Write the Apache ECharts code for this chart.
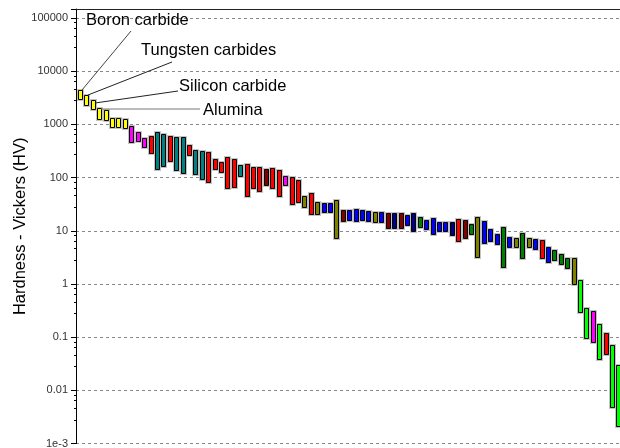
<!DOCTYPE html>
<html>
<head>
<meta charset="utf-8">
<script src="https://cdn.jsdelivr.net/npm/echarts@6/dist/echarts.min.js"></script>
<style>
  html, body { margin: 0; padding: 0; background: #fff; }
  #main { width: 620px; height: 448px; }
</style>
</head>
<body>
<div id="main"></div>
<script>
// hardness ranges (HV), one bar per material, left to right
var hvHigh = [4430, 3570, 2875, 2033, 1866, 1319, 1300, 1264,
  933, 720, 555, 605, 720, 660, 605, 580, 580, 410, 330, 316, 303,
  224, 196, 244, 224, 173, 180, 158, 158, 145, 152, 139, 107,
  103, 90, 45, 51, 35, 33, 33, 38, 24.6, 24.6, 25.7, 24.6,
  23.6, 22.6, 22.6, 21.6, 21.6, 21.6, 19.8, 21.6, 18.2, 16, 17.4, 14.6,
  14.6, 14.6, 16.7, 16, 13.4, 18.2, 15.3, 10.8, 8.7, 11.8, 7.6, 7.3,
  9.1, 7.3, 7.0, 6.7, 5.0, 4.4, 3.7, 3.1, 3.1, 1.19, 0.354, 0.31,
  0.177, 0.12, 0.071, 0.030];
var hvLow = [3000, 2315, 1947, 1264, 1210, 893, 880, 856,
  467, 488, 376, 290, 145, 165, 205, 139, 122, 266, 117, 94, 83,
  145, 127, 64, 67, 107, 45, 64, 56, 73, 64, 45, 73,
  32, 35, 28, 20.7, 20.7, 22.6, 22.6, 7.3, 15.3, 16, 15.3, 16,
  15.3, 14.6, 14.6, 11.3, 11.3, 11.3, 12.9, 9.9, 11.8, 10.8, 8.7, 9.9,
  9.9, 8.3, 6.4, 7.3, 8.7, 3.2, 5.9, 6.4, 5.6, 2.1, 5.0, 5.0,
  3.1, 5.0, 4.5, 3.1, 2.6, 2.8, 2.4, 2.0, 1.0, 0.30, 0.097, 0.081,
  0.039, 0.048, 0.0049, 0.0021];
// material family of each bar (sets its colour)
var family = ['Y','Y','Y','Y','Y','Y','Y','Y',
  'M','M','M','R','T','T','R','T','T','R','T','T','R',
  'R','R','R','R','T','R','R','R','D','R','R','M',
  'R','R','O','R','O','B','B','O','D','B','B','B',
  'B','O','B','D','N','D','B','N','G','B','B','B',
  'B','N','R','D','G','O','B','B','B','G','B','O',
  'G','O','B','R','B','G','G','G','O','L','L','M',
  'L','R','L','L'];
var familyColor = {Y: '#ffff00', M: '#ff00ff', R: '#ff0000', T: '#008080', D: '#800000',
  O: '#808000', B: '#0000ff', N: '#000080', G: '#008000', L: '#00ff00'};

// labelled materials: bar index, label position, leader line end
var annotations = [
  {text: 'Boron carbide', bar: 1, dy: 0, tx: 86, ty: 20, lx: 131, ly: 31, c: '#444'},
  {text: 'Tungsten carbides', bar: 2, dy: 0, tx: 141, ty: 50, lx: 172, ly: 62, c: '#222'},
  {text: 'Silicon carbide', bar: 3, dy: 3, tx: 179, ty: 86, lx: 178, ly: 91, c: '#222'},
  {text: 'Alumina', bar: 4, dy: 1, tx: 203, ty: 110, lx: 200, ly: null, c: '#777'}
];

var FONT = '"Liberation Sans", Arial, sans-serif';

var data = hvHigh.map(function (h, i) {
  return [i + 1, hvLow[i], h, family[i]];
});

var chart = echarts.init(document.getElementById('main'));

function renderBar(params, api) {
  var x = api.value(0);
  var top = api.coord([x, api.value(2)]);
  var bot = api.coord([x, api.value(1)]);
  var cx = Math.round(top[0]);
  var y0 = Math.round(top[1]);
  var y1 = Math.round(bot[1]);
  var fam = data[params.dataIndex][3];
  return {
    type: 'group',
    children: [
      {type: 'rect', shape: {x: cx - 3, y: y0 - 1, width: 7, height: y1 - y0 + 3},
        style: {fill: '#c4c4c4'}},
      {type: 'rect', shape: {x: cx - 2 + 0.5, y: y0 + 0.5, width: 4, height: y1 - y0},
        style: {fill: familyColor[fam], stroke: '#000', lineWidth: 1}}
    ]
  };
}

function logLabel(v) {
  var e = Math.log(v) / Math.LN10;
  var r = Math.round(e);
  if (Math.abs(e - r) > 1e-6) return '';
  if (r >= 0) return String(Math.pow(10, r));
  if (r === -1) return '0.1';
  if (r === -2) return '0.01';
  return '1e' + r;
}

chart.setOption({
  backgroundColor: '#fff',
  animation: false,
  grid: {left: 76, right: 0, top: 9, bottom: 4.4, containLabel: false, outerBoundsMode: 'none'},
  xAxis: {
    type: 'value', position: 'top', min: 0.376, max: 85.24,
    axisLine: {show: true, lineStyle: {color: '#222', width: 1}},
    axisTick: {show: false}, axisLabel: {show: false}, splitLine: {show: false}
  },
  yAxis: {
    type: 'log', logBase: 10, min: 0.001, max: 147670, splitNumber: 8,
    name: 'Hardness - Vickers (HV)', nameLocation: 'middle', nameGap: 47,
    nameMoveOverlap: false,
    nameTextStyle: {fontFamily: FONT, fontSize: 16.5, color: '#000'},
    axisLine: {show: true, lineStyle: {color: '#000'}},
    axisTick: {show: true, length: 5, lineStyle: {color: '#000'}},
    minorTick: {show: true, splitNumber: 5, length: 2, lineStyle: {color: '#000'}},
    axisLabel: {formatter: logLabel, fontFamily: FONT, fontSize: 11, color: '#333', margin: 8},
    splitLine: {show: true, lineStyle: {color: '#888', type: [3, 3], width: 1}}
  },
  series: [{
    type: 'custom',
    renderItem: renderBar,
    encode: {x: 0, y: [1, 2]},
    data: data
  }]
});

// leader lines and labels for the annotated materials
var g = [];
annotations.forEach(function (a) {
  var p = chart.convertToPixel({seriesIndex: 0}, [a.bar, hvHigh[a.bar - 1]]);
  var x1 = Math.round(p[0]) + 2;
  var y1 = Math.round(p[1]) + a.dy;
  g.push({type: 'line', z: 100,
    shape: {x1: x1, y1: y1, x2: a.lx, y2: a.ly == null ? y1 : a.ly},
    style: {stroke: a.c, lineWidth: 1}});
  g.push({type: 'text', z: 100, x: a.tx, y: a.ty,
    style: {text: a.text, fill: '#000', font: '16.5px ' + FONT, textVerticalAlign: 'middle'}});
});
chart.setOption({graphic: g});
</script>
</body>
</html>
